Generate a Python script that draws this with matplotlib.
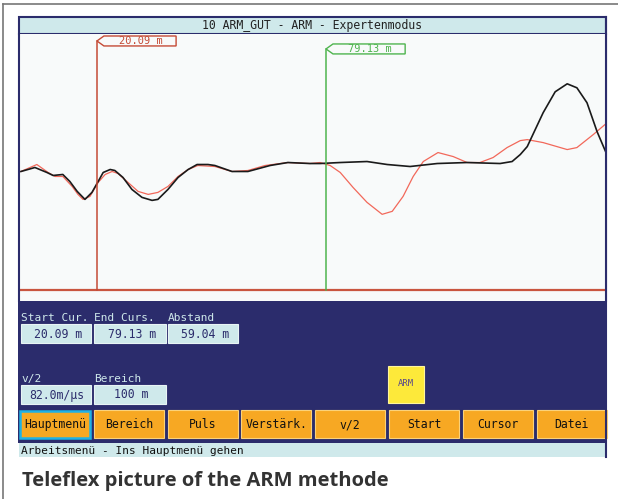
import matplotlib
matplotlib.use("Agg")
from matplotlib import pyplot as plt
from matplotlib.patches import Rectangle, Polygon
import numpy as np

# traces: distance in m, amplitude in screen units
black_m = [0.5, 4.1, 7.2, 8.8, 11.3, 13.1, 15.0, 17.0, 18.8, 20.4, 21.7, 23.5, 24.7,
           26.8, 29.1, 31.7, 34.3, 35.8, 38.4, 41.0, 43.6, 45.9, 48.7, 50.5, 54.9,
           59.0, 64.7, 69.3, 75.0, 77.6, 82.8, 89.7, 94.9, 100.8, 107.8, 115.5,
           124.0, 127.1, 129.2, 131.0, 135.1, 138.2, 141.3, 143.8, 146.4, 149.0, 151.3]
black_amp = [-4, 0, -5, -8, -7, -14, -24, -32, -25, -14, -5, -2, -3,
             -10, -22, -30, -33, -32, -22, -10, -2, 3, 3, 2, -4,
             -4, 2, 5, 4, 4, 5, 6, 3, 1, 4, 5,
             4, 6, 13, 21, 55, 76, 84, 80, 65, 36, 15]

red_m = [0.5, 4.6, 7.5, 9.3, 11.3, 13.7, 15.2, 16.5, 18.3, 20.4, 22.2, 24.0, 25.5,
         28.1, 30.7, 33.3, 35.8, 38.4, 41.0, 43.6, 46.1, 50.5, 54.9, 59.0, 63.4,
         69.3, 75.0, 77.6, 80.2, 82.8, 86.1, 89.7, 93.6, 96.2, 99.0, 101.6, 104.2,
         108.0, 111.9, 115.5, 118.8, 122.2, 125.8, 129.2, 131.0, 135.1, 141.3,
         143.8, 148.0, 151.3]
red_amp = [-4, 3, -5, -9, -9, -19, -27, -32, -29, -15, -7, -4, -6,
           -15, -24, -27, -25, -19, -9, -2, 2, 1, -4, -3, 2,
           5, 4, 5, 2, -5, -20, -35, -47, -44, -29, -9, 6,
           15, 11, 5, 5, 10, 20, 27, 28, 25, 18,
           20, 33, 44]

cursor_start = 20.09
cursor_end = 79.13
abstand = 59.04
v2 = "82.0m/\u00b5s"
bereich = "100 m"

buttons = ["Hauptmen\u00fc", "Bereich", "Puls", "Verst\u00e4rk.", "v/2", "Start", "Cursor", "Datei"]

navy = "#2b2c6c"
cyan = "#cfe9eb"
orange = "#f7a823"
mono = "DejaVu Sans Mono"

fig = plt.figure(figsize=(6.18, 4.99), dpi=100)
fig.patch.set_facecolor("white")

# background axes in pixel coordinates for the screen chrome
bg = fig.add_axes([0, 0, 1, 1])
bg.set_xlim(0, 618)
bg.set_ylim(499, 0)
bg.axis("off")

bg.plot([3, 618], [4, 4], color="#777777", lw=1.2)
bg.plot([3, 3], [4, 499], color="#777777", lw=1.2)

# title bar
bg.add_patch(Rectangle((19, 17), 587, 17, facecolor=cyan, edgecolor=navy, lw=1.5))
bg.text(312, 25.5, "10 ARM_GUT - ARM - Expertenmodus", family=mono, fontsize=8.3,
        ha="center", va="center", color="#222222")

# blue panel
bg.add_patch(Rectangle((18, 300), 589, 143, facecolor=navy, edgecolor="none"))

labels = [("Start Cur.", 21), ("End Curs.", 94), ("Abstand", 168)]
for txt, x in labels:
    bg.text(x, 318, txt, family=mono, fontsize=8, color=cyan, va="center", ha="left")
vals = ["%.2f m" % cursor_start, "%.2f m" % cursor_end, "%.2f m" % abstand]
boxes_x = [(21, 91), (94, 166), (168, 238)]
for (x0, x1), v in zip(boxes_x, vals):
    bg.add_patch(Rectangle((x0, 324), x1 - x0, 19, facecolor=cyan, edgecolor="#e8f4f5", lw=0.8))
    bg.text((x0 + x1) / 2 + 2, 334, v, family=mono, fontsize=8.3, color=navy,
            ha="center", va="center")

bg.text(21, 379, "v/2", family=mono, fontsize=8, color=cyan, va="center")
bg.text(94, 379, "Bereich", family=mono, fontsize=8, color=cyan, va="center")
for (x0, x1), v in zip([(21, 91), (94, 166)], [v2, bereich]):
    bg.add_patch(Rectangle((x0, 385), x1 - x0, 19, facecolor=cyan, edgecolor="#e8f4f5", lw=0.8))
    bg.text((x0 + x1) / 2 + 1, 395, v, family=mono, fontsize=8.3, color=navy,
            ha="center", va="center")

# ARM indicator
bg.add_patch(Rectangle((388, 366), 36, 37, facecolor="#fde93a", edgecolor="#fff59a", lw=0.8))
bg.text(406, 384, "ARM", family=mono, fontsize=6.5, color="#5a4a8a", ha="center", va="center")

# softkey row
for i, b in enumerate(buttons):
    x0 = 19 + i * 73.8
    if i == 0:
        bg.add_patch(Rectangle((x0 + 1, 411), 70, 27, facecolor=orange, edgecolor="#1fb2e6", lw=1.8))
    else:
        bg.add_patch(Rectangle((x0 + 1, 410), 70, 28, facecolor=orange, edgecolor="#fbd27a", lw=0.8))
    bg.text(x0 + 36, 424.5, b, family=mono, fontsize=8.3, color="#111111",
            ha="center", va="center")

# status line
bg.add_patch(Rectangle((19, 443), 587, 14, facecolor=cyan, edgecolor="none"))
bg.plot([606, 606], [17, 457], color=navy, lw=1.5)
bg.text(21, 450.5, "Arbeitsmen\u00fc - Ins Hauptmen\u00fc gehen", family=mono, fontsize=8,
        color="#111111", va="center")

# caption
bg.text(22, 481, "Teleflex picture of the ARM methode", family="Open Sans",
        fontweight="bold", fontsize=14.5, color="#333333", va="center")

# trace area
ax = fig.add_axes([19 / 618, 1 - 301 / 499, 587 / 618, 267 / 499])
ax.set_facecolor("#f8fafa")
ax.set_xlim(0, 151.3)
ax.set_ylim(-134, 134)
ax.set_xticks([])
ax.set_yticks([])
for s in ["top", "bottom"]:
    ax.spines[s].set_visible(False)
for s in ["left", "right"]:
    ax.spines[s].set_color(navy)
    ax.spines[s].set_linewidth(1.5)

ax.axhline(-123, color="#c9553f", lw=1.6)

ax.plot(red_m, red_amp, color="#f2685a", lw=0.9)
ax.plot(black_m, black_amp, color="#1a1a1a", lw=1.2)


def flag(x0, ytop, text, color):
    ybot = ytop - 10
    ymid = (ytop + ybot) / 2
    w = 20.4
    pts = [(x0, ymid), (x0 + 1.8, ytop), (x0 + w, ytop), (x0 + w, ybot), (x0 + 1.8, ybot)]
    ax.add_patch(Polygon(pts, closed=True, facecolor="#f8fafa", edgecolor=color, lw=1.0))
    ax.plot([x0, x0], [ymid, -123], color=color, lw=1.1)
    ax.text(x0 + w / 2 + 1, ymid, text, family=mono, fontsize=7.5, color=color,
            ha="center", va="center")


flag(cursor_start, 132, "%.2f m" % cursor_start, "#c44a35")
flag(cursor_end, 124, "%.2f m" % cursor_end, "#4fb44f")

fig.savefig("out.png", dpi=100)
